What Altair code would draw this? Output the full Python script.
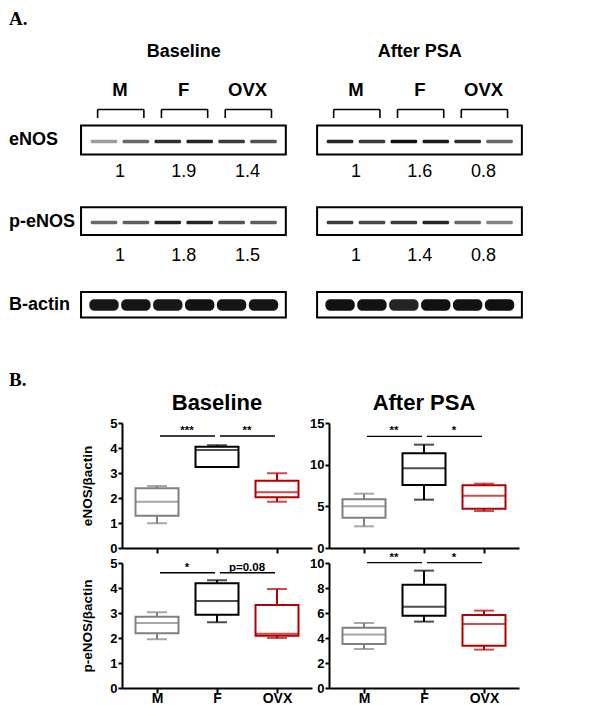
import json
import altair as alt
import pandas as pd

# ---------------- data ----------------
GROUPS = ["M", "F", "OVX"]
COLORS = ["#808080", "#000000", "#b40000"]
PANELS = ["Baseline", "After PSA"]
BLOT_ROWS = ["eNOS", "p-eNOS", "B-actin"]

# western blot band densities (0 = empty, 1 = black), two lanes per group
ENOS_BASE = [0.35, 0.55, 0.80, 0.85, 0.75, 0.65]
ENOS_PSA = [0.85, 0.75, 0.95, 0.90, 0.80, 0.55]
PENOS_BASE = [0.55, 0.60, 0.85, 0.85, 0.65, 0.60]
PENOS_PSA = [0.75, 0.70, 0.75, 0.85, 0.55, 0.45]
ACTIN_BASE = [0.92, 0.93, 0.92, 0.94, 0.93, 0.93]
ACTIN_PSA = [0.95, 0.94, 0.86, 0.95, 0.94, 0.95]

# fold-change labels under the blots
ENOS_FOLD_BASE = ["1", "1.9", "1.4"]
ENOS_FOLD_PSA = ["1", "1.6", "0.8"]
PENOS_FOLD_BASE = ["1", "1.8", "1.5"]
PENOS_FOLD_PSA = ["1", "1.4", "0.8"]

# box plot summaries (min, q1, median, q3, max) per group M, F, OVX
ENOS_BASELINE = {"min": [0.99, 3.24, 1.85], "q1": [1.29, 3.24, 2.03], "median": [1.85, 3.92, 2.23],
                 "q3": [2.39, 4.05, 2.69], "max": [2.48, 4.11, 2.99]}
ENOS_AFTER = {"min": [2.6, 5.8, 4.44], "q1": [3.64, 7.56, 4.72], "median": [5.0, 9.56, 6.28],
              "q3": [5.84, 11.36, 7.52], "max": [6.52, 12.4, 7.72]}
PENOS_BASELINE = {"min": [1.95, 2.63, 2.0], "q1": [2.19, 2.93, 2.09], "median": [2.6, 3.48, 2.17],
                  "q3": [2.85, 4.19, 3.32], "max": [3.03, 4.31, 3.96]}
PENOS_AFTER = {"min": [3.12, 5.31, 3.07], "q1": [3.52, 5.79, 3.39], "median": [4.29, 6.51, 5.12],
               "q3": [4.83, 8.27, 5.84], "max": [5.2, 9.39, 6.19]}

SIG_PAIRS = [(0, 1), (1, 2)]
SIG_ENOS_BASELINE = ["***", "**"]
SIG_ENOS_AFTER = ["**", "*"]
SIG_PENOS_BASELINE = ["*", "p=0.08"]
SIG_PENOS_AFTER = ["**", "*"]
SIG_Y = [4.48, 13.4, 4.61, 10.03]

# ---------------- layout constants ----------------
FONT = "Liberation Sans"
SERIF = "Liberation Serif"
PW, PH = 190, 125          # box plot panel size
COL_GAP, ROW_GAP = 17, 15
ORIGIN_X = [121.0, 121.0 + PW + COL_GAP]   # page x of each column's plot origin
LANE_PX = 31.9
LANE0_PX = [103.0, 103.0 + 7.4 * LANE_PX]   # page x of the first lane of each blot
HA = 400

# part A rows (chart-relative y, px units)
Y_TITLE, Y_GROUP, Y_BRACKET, Y_LEG = 44, 82, 101.5, 110
FRAMES = {"eNOS": (117.5, 146.5), "p-eNOS": (199.3, 227), "B-actin": (284, 309.5)}
BAND_Y = {"eNOS": 133.5, "p-eNOS": 214.5, "B-actin": 297}
BAND_H = {"eNOS": 3.6, "p-eNOS": 3.4, "B-actin": 11.5}
BAND_HALF = {"eNOS": 0.42, "p-eNOS": 0.42, "B-actin": 0.46}
LABEL_Y = {"eNOS": 132, "p-eNOS": 214, "B-actin": 297}
FOLD_Y = {"eNOS": 163.7, "p-eNOS": 247.7}

dens = {("eNOS", 0): ENOS_BASE, ("eNOS", 1): ENOS_PSA,
        ("p-eNOS", 0): PENOS_BASE, ("p-eNOS", 1): PENOS_PSA,
        ("B-actin", 0): ACTIN_BASE, ("B-actin", 1): ACTIN_PSA}
folds = {("eNOS", 0): ENOS_FOLD_BASE, ("eNOS", 1): ENOS_FOLD_PSA,
         ("p-eNOS", 0): PENOS_FOLD_BASE, ("p-eNOS", 1): PENOS_FOLD_PSA}

dens_color = alt.Color("d:Q", scale=alt.Scale(domain=[0, 1], range=["#ffffff", "#000000"]), legend=None)


def part_a_half(p):
    x0 = (ORIGIN_X[p] - LANE0_PX[p]) / LANE_PX
    xdom = [x0, x0 + PW / LANE_PX]

    def AX(field):
        return alt.X(field, type="quantitative", axis=None,
                     scale=alt.Scale(domain=xdom, nice=False, zero=False))

    def AY(field):
        return alt.Y(field, type="quantitative", axis=None,
                     scale=alt.Scale(domain=[0, HA], nice=False, zero=False, reverse=True))

    band_rows, frame_rows, fold_rows, group_rows, seg_rows = [], [], [], [], []
    title_rows = [{"x": 2.5, "y": Y_TITLE, "t": PANELS[p]}]
    for g, grp in enumerate(GROUPS):
        c = 2 * g + 0.5
        group_rows.append({"x": c, "y": Y_GROUP, "t": grp})
        a, b = 2 * g - 0.2, 2 * g + 1.25
        seg_rows.append({"x": a, "x2": b, "y": Y_BRACKET, "y2": Y_BRACKET})
        seg_rows.append({"x": a, "x2": a, "y": Y_BRACKET, "y2": Y_LEG})
        seg_rows.append({"x": b, "x2": b, "y": Y_BRACKET, "y2": Y_LEG})
    for row in BLOT_ROWS:
        t, btm = FRAMES[row]
        frame_rows.append({"x": -0.72, "x2": 5.7, "y": t, "y2": btm})
        for i, d in enumerate(dens[(row, p)]):
            band_rows.append({"x": i - BAND_HALF[row], "x2": i + BAND_HALF[row],
                              "y": BAND_Y[row] - BAND_H[row] / 2, "y2": BAND_Y[row] + BAND_H[row] / 2,
                              "d": d, "row": row})
        if (row, p) in folds:
            for g, v in enumerate(folds[(row, p)]):
                fold_rows.append({"x": 2 * g + 0.5, "y": FOLD_Y[row], "t": v})

    layers = [
        alt.Chart(pd.DataFrame(frame_rows)).mark_rect(
            fillOpacity=0, stroke="black", strokeWidth=2).encode(x=AX("x"), x2="x2", y=AY("y"), y2="y2"),
        alt.Chart(pd.DataFrame([r for r in band_rows if r["row"] != "B-actin"])).mark_rect(
            cornerRadius=1.5).encode(x=AX("x"), x2="x2", y=AY("y"), y2="y2", color=dens_color),
        alt.Chart(pd.DataFrame([r for r in band_rows if r["row"] == "B-actin"])).mark_rect(
            cornerRadius=5).encode(x=AX("x"), x2="x2", y=AY("y"), y2="y2", color=dens_color),
        alt.Chart(pd.DataFrame(seg_rows)).mark_rule(color="black", strokeWidth=1.6).encode(
            x=AX("x"), x2="x2", y=AY("y"), y2="y2"),
        alt.Chart(pd.DataFrame(title_rows)).mark_text(
            font=FONT, fontSize=18, fontWeight="bold", color="black", baseline="middle").encode(
            x=AX("x"), y=AY("y"), text="t:N"),
        alt.Chart(pd.DataFrame(group_rows)).mark_text(
            font=FONT, fontSize=18.5, fontWeight="bold", color="black", baseline="middle").encode(
            x=AX("x"), y=AY("y"), text="t:N"),
        alt.Chart(pd.DataFrame(fold_rows)).mark_text(
            font=FONT, fontSize=18, color="black", baseline="middle").encode(
            x=AX("x"), y=AY("y"), text="t:N"),
    ]
    if p == 0:
        left_lane = (8 - LANE0_PX[0]) / LANE_PX
        label_rows = [{"x": left_lane, "y": LABEL_Y[r], "t": r} for r in BLOT_ROWS]
        letter_rows = [{"x": left_lane, "y": 2, "t": "A."}, {"x": left_lane, "y": 363, "t": "B."}]
        layers.append(alt.Chart(pd.DataFrame(label_rows)).mark_text(
            font=FONT, fontSize=18, fontWeight="bold", color="black", baseline="middle", align="left").encode(
            x=AX("x"), y=AY("y"), text="t:N"))
        layers.append(alt.Chart(pd.DataFrame(letter_rows)).mark_text(
            font=SERIF, fontSize=19, fontWeight="bold", color="black", baseline="top", align="left").encode(
            x=AX("x"), y=AY("y"), text="t:N"))
    return alt.layer(*layers).properties(width=PW, height=HA)


# ---------------- part B box plots ----------------
LABEL_EXPR = json.dumps(GROUPS) + "[datum.value]"


def box_panel(stats, ymax, ystep, sig_labels, sig_y, title=None, ytitle=None, xlabels=False):
    df = pd.DataFrame({"pos": [0, 1, 2], "group": GROUPS, "lo": stats["min"], "q1": stats["q1"],
                       "med": stats["median"], "q3": stats["q3"], "hi": stats["max"]})
    xs = alt.Scale(domain=[-0.5, 2.5], nice=False, zero=False)
    xa = alt.Axis(values=[0, 1, 2], labelExpr=LABEL_EXPR, labels=xlabels, title=None)
    ys = alt.Scale(domain=[0, ymax], nice=False)
    ya = alt.Axis(values=list(range(0, ymax + 1, ystep)), title=ytitle)

    def X(f):
        return alt.X(f, type="quantitative", scale=xs, axis=xa)

    def Y(f):
        return alt.Y(f, type="quantitative", scale=ys, axis=ya)

    col = alt.Color("group:N", scale=alt.Scale(domain=GROUPS, range=COLORS), legend=None)
    strk = alt.Stroke("group:N", scale=alt.Scale(domain=GROUPS, range=COLORS), legend=None)
    base = alt.Chart(df)
    w_lo = base.mark_rule(strokeWidth=2).encode(x=X("pos"), y=Y("lo"), y2="q1", color=col)
    w_hi = base.mark_rule(strokeWidth=2).encode(x=X("pos"), y=Y("q3"), y2="hi", color=col)
    c_lo = base.mark_tick(orient="horizontal", size=20, thickness=2).encode(x=X("pos"), y=Y("lo"), color=col)
    c_hi = base.mark_tick(orient="horizontal", size=20, thickness=2).encode(x=X("pos"), y=Y("hi"), color=col)
    box = base.mark_bar(size=43, fill="white", strokeWidth=2).encode(
        x=X("pos"), y=Y("q1"), y2="q3", stroke=strk)
    med = base.mark_tick(orient="horizontal", size=43, thickness=2).encode(x=X("pos"), y=Y("med"), color=col)

    sdf = pd.DataFrame({"a": [p[0] for p in SIG_PAIRS], "b": [p[1] for p in SIG_PAIRS],
                        "mid": [(p[0] + p[1]) / 2 for p in SIG_PAIRS],
                        "y": [sig_y, sig_y], "t": sig_labels})
    sbar = alt.Chart(sdf).mark_rule(color="black", strokeWidth=1.4, xOffset=3, x2Offset=-2).encode(
        x=X("a"), x2="b", y=Y("y"))
    stxt = alt.Chart(sdf).mark_text(font=FONT, fontSize=11.5, fontWeight="bold", color="black",
                                     baseline="alphabetic", dy=-2).encode(x=X("mid"), y=Y("y"), text="t:N")
    layer = alt.layer(w_lo, w_hi, c_lo, c_hi, box, med, sbar, stxt).properties(width=PW, height=PH)
    if title is not None:
        layer = layer.properties(title=alt.TitleParams(title))
    return layer


tl = box_panel(ENOS_BASELINE, 5, 1, SIG_ENOS_BASELINE, SIG_Y[0], title="Baseline", ytitle="eNOS/βactin")
tr = box_panel(ENOS_AFTER, 15, 5, SIG_ENOS_AFTER, SIG_Y[1], title="After PSA")
bl = box_panel(PENOS_BASELINE, 5, 1, SIG_PENOS_BASELINE, SIG_Y[2], ytitle="p-eNOS/βactin", xlabels=True)
br = box_panel(PENOS_AFTER, 10, 2, SIG_PENOS_AFTER, SIG_Y[3], xlabels=True)

chart = (
    alt.concat(part_a_half(0), part_a_half(1), tl, tr, bl, br, columns=2,
               spacing={"row": ROW_GAP, "column": COL_GAP}, bounds="flush")
    .properties(padding=0, background="white")
    .configure_view(strokeWidth=0)
    .configure_axis(domainColor="black", domainWidth=2, tickColor="black", tickWidth=2,
                    labelColor="black", labelFont=FONT, labelFontWeight="bold", grid=False,
                    titleFont=FONT, titleFontWeight="bold", titleColor="black")
    .configure_axisY(tickSize=4, labelPadding=1, labelFontSize=13, titleFontSize=13.5, titlePadding=15)
    .configure_axisX(tickSize=5, labelPadding=-2, labelFontSize=14)
    .configure_title(font=FONT, fontSize=22, fontWeight="bold", color="black", anchor="middle", offset=2)
)

chart.save("out.html", embed_options={"renderer": "svg", "actions": False})
